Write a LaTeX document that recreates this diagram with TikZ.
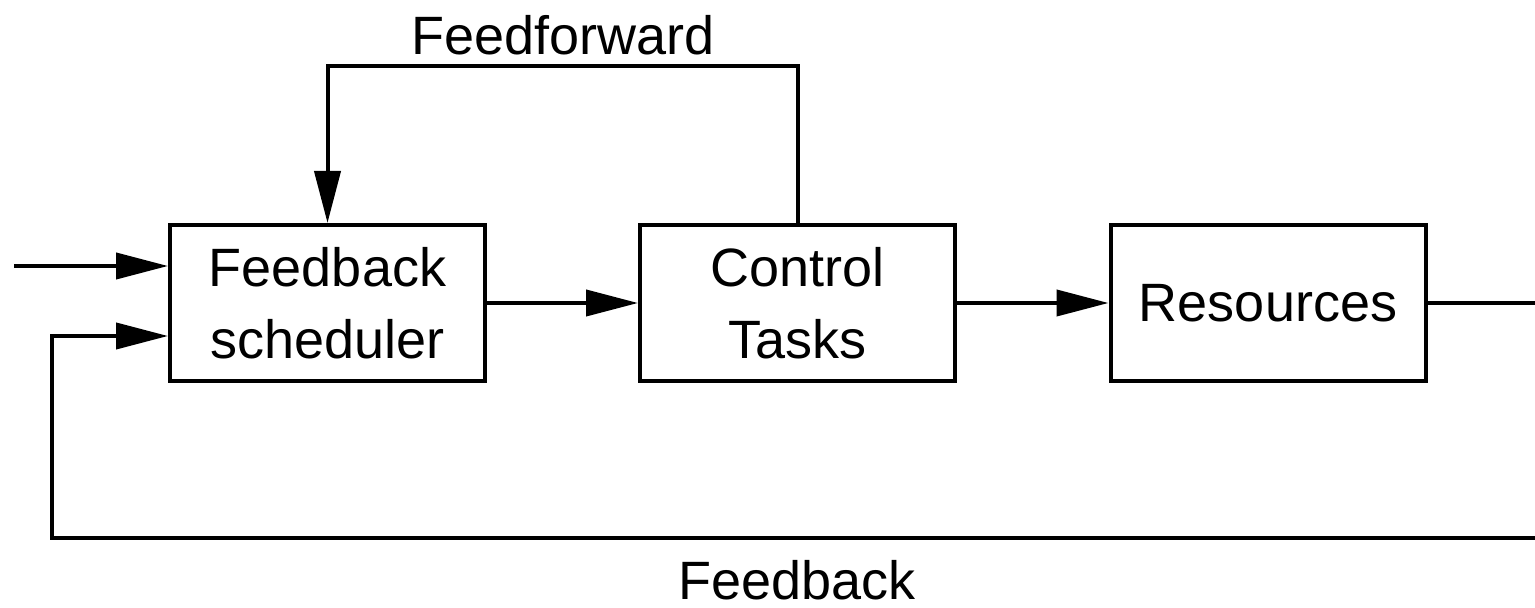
\documentclass[tikz,border=0pt]{standalone}
\usepackage{fontspec}
\setmainfont{Liberation Sans}
\usetikzlibrary{arrows.meta,calc}

\begin{document}
\begin{tikzpicture}[x=0.5pt, y=-0.5pt, >={Triangle[length=26pt,width=13pt]},
		line width=2pt,
		blockbox/.style={draw, line width=2pt, minimum width=157.5pt, minimum height=78pt,
			align=center, font=\fontsize{27}{36}\selectfont, inner sep=0pt},
		lbl/.style={font=\fontsize{27}{36}\selectfont, inner sep=0pt}]
		
		\useasboundingbox (0,0) rectangle (1535,608);
		
		% blocks
		\node[blockbox] (sched) at (327.5,303) {Feedback\\scheduler};
		\node[blockbox] (ctrl) at (797.5,303) {Control\\Tasks};
		\node[blockbox] (res) at (1268,303) {Resources};
		
		% free ends at the picture border
		\coordinate (in) at (14,266);
		\coordinate (out) at (1535,303);
		\coordinate (back) at (1535,538);
		\coordinate (fb) at (52,538);
		
		% forward path
		\draw[->] (in) -- (in -| sched.west);
		\draw[->] (sched) -- (ctrl);
		\draw[->] (ctrl) -- (res);
		\draw (res.east) -- (out);
		
		% feedforward loop
		\draw[->] (ctrl.north) -- ++(0,-157) -| (sched.north);
		\node[lbl] (ffl) at (563,35) {Feedforward};
		
		% feedback loop
		\draw[->] (back) -- (fb) |- ($(sched.west)+(0,33)$);
		\node[lbl] (fbl) at (797,580) {Feedback};
		
	\end{tikzpicture}
\end{document}
